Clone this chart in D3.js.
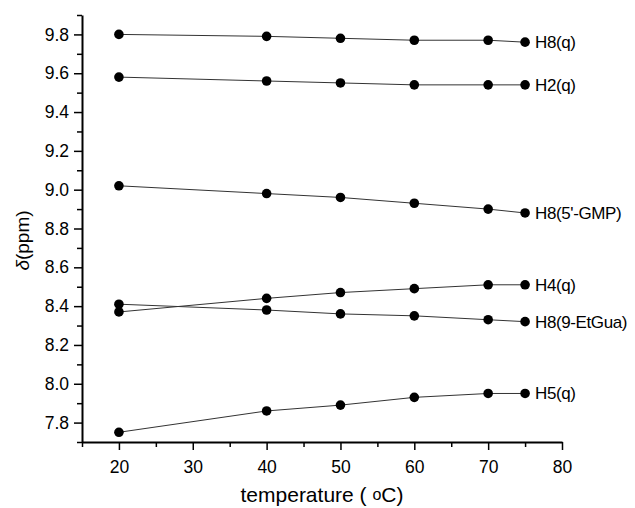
<!DOCTYPE html>
<html>
<head>
<meta charset="utf-8">
<script src="https://cdn.jsdelivr.net/npm/d3@7"></script>
<style>
	body { margin: 0; background: #fff; }
	svg { display: block; font-family: "Liberation Sans", Arial, sans-serif; }
	.domain { stroke: #000; stroke-width: 2; }
	.tick line { stroke: #000; stroke-width: 1.5; }
	.tick text { font-size: 17.5px; fill: #000; }
</style>
</head>
<body>
<svg id="chart" width="635" height="508"></svg>
<script>
let temps = [20, 40, 50, 60, 70, 75];
let names = ['H8(q)', 'H2(q)', 'H8(5\'-GMP)', 'H4(q)', 'H8(9-EtGua)', 'H5(q)'];
let h8q = [9.80, 9.79, 9.78, 9.77, 9.77, 9.76];
let h2q = [9.58, 9.56, 9.55, 9.54, 9.54, 9.54];
let h8gmp = [9.02, 8.98, 8.96, 8.93, 8.90, 8.88];
let h4q = [8.37, 8.44, 8.47, 8.49, 8.51, 8.51];
let h8etgua = [8.41, 8.38, 8.36, 8.35, 8.33, 8.32];
let h5q = [7.75, 7.86, 7.89, 7.93, 7.95, 7.95];
let x_ticks = [20, 30, 40, 50, 60, 70, 80],
	x_minor = [15, 25, 35, 45, 55, 65, 75],
	y_ticks = [7.8, 8.0, 8.2, 8.4, 8.6, 8.8, 9.0, 9.2, 9.4, 9.6, 9.8],
	y_minor = [7.7, 7.9, 8.1, 8.3, 8.5, 8.7, 8.9, 9.1, 9.3, 9.5, 9.7, 9.9];

let all_series = [h8q, h2q, h8gmp, h4q, h8etgua, h5q];

let plot = {left: 82, right: 562, top: 15, bottom: 442};

let x = d3.scaleLinear().domain([15, 80]).range([plot.left, plot.right]),
	y = d3.scaleLinear().domain([7.7, 9.9]).range([plot.bottom, plot.top]);

let svg = d3.select('#chart');

// minor ticks first, then the main axes on top
svg.append('g')
	.attr('transform', `translate(0, ${plot.bottom})`)
	.call(d3.axisBottom(x).tickValues(x_minor).tickSize(5).tickSizeOuter(0).tickFormat(''))
	.select('.domain').remove();
svg.append('g')
	.attr('transform', `translate(${plot.left}, 0)`)
	.call(d3.axisLeft(y).tickValues(y_minor).tickSize(5).tickSizeOuter(0).tickFormat(''))
	.select('.domain').remove();

let x_axis = svg.append('g')
	.attr('transform', `translate(0, ${plot.bottom})`)
	.call(d3.axisBottom(x).tickValues(x_ticks).tickSize(8).tickSizeOuter(0).tickPadding(6));
x_axis.selectAll('.tick text').attr('dy', '0.95em');

let y_axis = svg.append('g')
	.attr('transform', `translate(${plot.left}, 0)`)
	.call(d3.axisLeft(y).tickValues(y_ticks).tickSize(8).tickSizeOuter(0).tickPadding(5)
		.tickFormat(d3.format('.1f')));

// axis titles
let xt = svg.append('text')
	.attr('x', 322)
	.attr('y', 502)
	.attr('text-anchor', 'middle')
	.style('font-size', '21px');
xt.append('tspan').text('temperature ( ');
xt.append('tspan').text('o').style('font-size', '16px').attr('dy', -2);
xt.append('tspan').text('C)').attr('dy', 2);

let yt = svg.append('text')
	.attr('transform', `translate(29, ${(plot.top + plot.bottom) / 2 + 12}) rotate(-90)`)
	.attr('text-anchor', 'middle')
	.style('font-size', '19px');
yt.append('tspan').text('δ').style('font-style', 'italic');
yt.append('tspan').text('(ppm)');

let line_function = d3.line()
	.x((d, i) => x(temps[i]))
	.y(d => y(d));

let series = svg.selectAll('.series')
	.data(all_series)
	.enter()
	.append('g')
	.attr('class', 'series');

series.append('path')
	.attr('d', d => line_function(d))
	.style('fill', 'none')
	.style('stroke', '#333')
	.style('stroke-width', 1);

series.selectAll('circle')
	.data(d => d)
	.enter()
	.append('circle')
	.attr('cx', (d, i) => x(temps[i]))
	.attr('cy', d => y(d))
	.attr('r', 4.8)
	.style('fill', '#000');

series.append('text')
	.attr('x', d => x(temps[temps.length - 1]) + 10)
	.attr('y', d => y(d[d.length - 1]))
	.attr('dy', '0.35em')
	.style('font-size', '17px')
	.style('letter-spacing', '-0.4px')
	.text((d, i) => names[i]);
</script>
</body>
</html>
